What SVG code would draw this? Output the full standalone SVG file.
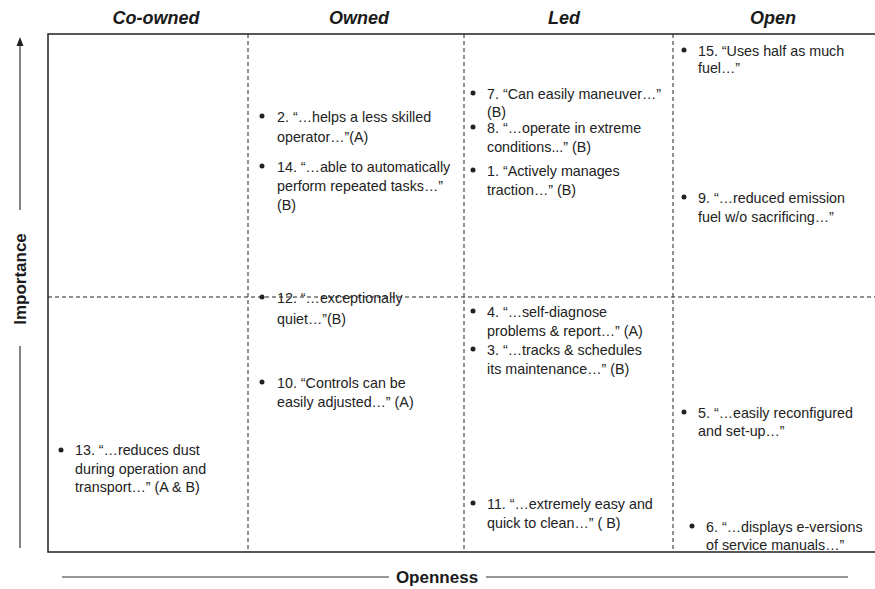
<svg xmlns="http://www.w3.org/2000/svg" width="875" height="589" viewBox="0 0 875 589">
<style>
.hdr{font-family:"Liberation Sans",Arial,sans-serif;font-weight:bold;font-style:italic;font-size:18px;fill:#1a1a1a;text-anchor:middle}
.ax{font-family:"Liberation Sans",Arial,sans-serif;font-weight:bold;font-size:17px;fill:#1a1a1a;text-anchor:middle}
.t{font-family:"Liberation Sans",Arial,sans-serif;font-size:14.3px;fill:#222}
.dash{stroke:#222;stroke-width:1;stroke-dasharray:4 3;fill:none}
.solid{stroke:#222;stroke-width:1.5;fill:none}
.axl{stroke:#333;stroke-width:1.2;fill:none}
.b{fill:#222}
</style>
<g id="headers">
<text class="hdr" x="156" y="24">Co-owned</text>
<text class="hdr" x="359" y="24">Owned</text>
<text class="hdr" x="564" y="24">Led</text>
<text class="hdr" x="773" y="24">Open</text>
</g>
<g id="grid">
<path class="solid" d="M875,34 H48 V552 H875"/>
<path class="dash" d="M248,34 V552 M464,34 V552 M673,34 V552 M48,297 H875"/>
</g>
<g id="axes">
<line class="axl" x1="20" y1="210" x2="20" y2="44"/>
<polygon class="b" points="20,37 16.5,46 23.5,46"/>
<line class="axl" x1="20" y1="346" x2="20" y2="548"/>
<text class="ax" transform="translate(26,279) rotate(-90)">Importance</text>
<line class="axl" x1="62" y1="577" x2="389" y2="577"/>
<line class="axl" x1="486" y1="577" x2="848" y2="577"/>
<text class="ax" x="437" y="583">Openness</text>
</g>
<g id="item13"><circle class="b" cx="61" cy="450" r="2.5"/><text class="t" x="75" y="455">13. “…reduces dust<tspan x="75" dy="18.5">during operation and</tspan><tspan x="75" dy="18.5">transport…” (A &amp; B)</tspan></text></g>
<g id="item2"><circle class="b" cx="262" cy="116" r="2.5"/><text class="t" x="277" y="122">2. “…helps a less skilled<tspan x="277" dy="20">operator…”(A)</tspan></text></g>
<g id="item14"><circle class="b" cx="262" cy="166" r="2.5"/><text class="t" x="277" y="172">14. “…able to automatically<tspan x="277" dy="19">perform repeated tasks…”</tspan><tspan x="277" dy="19">(B)</tspan></text></g>
<g id="item12"><circle class="b" cx="262" cy="297" r="2.5"/><text class="t" x="277" y="303">12. “…exceptionally<tspan x="277" dy="21">quiet…”(B)</tspan></text></g>
<g id="item10"><circle class="b" cx="262" cy="382" r="2.5"/><text class="t" x="277" y="388">10. “Controls can be<tspan x="277" dy="19">easily adjusted…” (A)</tspan></text></g>
<g id="item7"><circle class="b" cx="473" cy="93" r="2.5"/><text class="t" x="487" y="99">7. “Can easily maneuver…”<tspan x="487" dy="18">(B)</tspan></text></g>
<g id="item8"><circle class="b" cx="473" cy="127" r="2.5"/><text class="t" x="487" y="133">8. “…operate in extreme<tspan x="487" dy="19">conditions...” (B)</tspan></text></g>
<g id="item1"><circle class="b" cx="473" cy="170" r="2.5"/><text class="t" x="487" y="176">1. “Actively manages<tspan x="487" dy="19">traction…” (B)</tspan></text></g>
<g id="item4"><circle class="b" cx="473" cy="311" r="2.5"/><text class="t" x="487" y="317">4. “…self-diagnose<tspan x="487" dy="18.5">problems &amp; report…” (A)</tspan></text></g>
<g id="item3"><circle class="b" cx="473" cy="349" r="2.5"/><text class="t" x="487" y="355">3. “…tracks &amp; schedules<tspan x="487" dy="18.5">its maintenance…” (B)</tspan></text></g>
<g id="item11"><circle class="b" cx="473" cy="503" r="2.5"/><text class="t" x="487" y="509">11. “…extremely easy and<tspan x="487" dy="19">quick to clean…” ( B)</tspan></text></g>
<g id="item15"><circle class="b" cx="684" cy="50" r="2.5"/><text class="t" x="698" y="56">15. “Uses half as much<tspan x="698" dy="17">fuel…”</tspan></text></g>
<g id="item9"><circle class="b" cx="684" cy="197" r="2.5"/><text class="t" x="698" y="203">9. “…reduced emission<tspan x="698" dy="19">fuel w/o sacrificing…”</tspan></text></g>
<g id="item5"><circle class="b" cx="684" cy="412" r="2.5"/><text class="t" x="698" y="418">5. “…easily reconfigured<tspan x="698" dy="18">and set-up…”</tspan></text></g>
<g id="item6"><circle class="b" cx="692" cy="526" r="2.5"/><text class="t" x="706" y="532">6. “…displays e-versions<tspan x="706" dy="18">of service manuals…”</tspan></text></g>
</svg>
